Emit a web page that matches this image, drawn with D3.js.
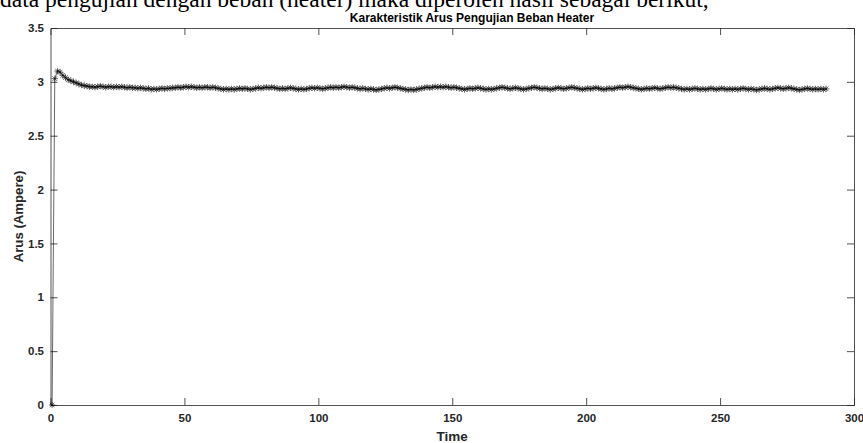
<!DOCTYPE html>
<html><head><meta charset="utf-8">
<script src="https://cdn.jsdelivr.net/npm/d3@7/dist/d3.min.js"></script>
<style>body{margin:0;background:#fff;}svg{display:block;}</style>
</head><body><svg id="c" width="863" height="443"></svg>
<script>
const titleText = "Karakteristik Arus Pengujian Beban Heater";
const xLabel = "Time";
const yLabel = "Arus (Ampere)";
const xTicks = [0, 50, 100, 150, 200, 250, 300];
const yTicks = [0, 0.5, 1, 1.5, 2, 2.5, 3, 3.5];
const arus = [
0, 3.03, 3.10, 3.09, 3.06, 3.04, 3.02, 3.01, 3.00, 2.99, 2.98, 2.97, 2.965, 2.96, 2.955, 2.955, 2.95, 2.955, 2.96, 2.955,
2.95, 2.955, 2.955, 2.95, 2.955, 2.95, 2.955, 2.95, 2.945, 2.95, 2.945, 2.945, 2.94, 2.945, 2.94, 2.935, 2.94, 2.93, 2.935, 2.93,
2.935, 2.94, 2.935, 2.94, 2.94, 2.945, 2.945, 2.95, 2.945, 2.95, 2.955, 2.95, 2.955, 2.95, 2.945, 2.95, 2.945, 2.95, 2.95, 2.945,
2.95, 2.945, 2.94, 2.935, 2.93, 2.935, 2.93, 2.935, 2.93, 2.935, 2.94, 2.935, 2.94, 2.935, 2.93, 2.935, 2.94, 2.945, 2.94, 2.945,
2.95, 2.945, 2.95, 2.945, 2.94, 2.935, 2.94, 2.935, 2.94, 2.945, 2.94, 2.935, 2.93, 2.935, 2.93, 2.935, 2.94, 2.945, 2.94, 2.945,
2.94, 2.935, 2.94, 2.945, 2.95, 2.945, 2.95, 2.945, 2.95, 2.955, 2.95, 2.945, 2.95, 2.945, 2.94, 2.935, 2.94, 2.935, 2.93, 2.935,
2.93, 2.925, 2.93, 2.935, 2.94, 2.945, 2.94, 2.945, 2.95, 2.945, 2.94, 2.935, 2.93, 2.925, 2.93, 2.925, 2.93, 2.935, 2.94, 2.945,
2.95, 2.945, 2.95, 2.955, 2.95, 2.955, 2.95, 2.955, 2.95, 2.945, 2.95, 2.945, 2.94, 2.935, 2.93, 2.935, 2.94, 2.935, 2.94, 2.945,
2.94, 2.935, 2.93, 2.935, 2.93, 2.935, 2.94, 2.945, 2.95, 2.945, 2.94, 2.935, 2.94, 2.945, 2.94, 2.935, 2.93, 2.935, 2.94, 2.945,
2.95, 2.945, 2.94, 2.935, 2.94, 2.935, 2.93, 2.935, 2.94, 2.945, 2.94, 2.935, 2.94, 2.945, 2.95, 2.945, 2.94, 2.935, 2.93, 2.935,
2.94, 2.935, 2.94, 2.945, 2.94, 2.935, 2.93, 2.935, 2.94, 2.935, 2.94, 2.945, 2.95, 2.945, 2.95, 2.955, 2.95, 2.945, 2.94, 2.935,
2.93, 2.935, 2.94, 2.935, 2.94, 2.945, 2.94, 2.935, 2.94, 2.945, 2.95, 2.945, 2.95, 2.945, 2.94, 2.935, 2.93, 2.935, 2.93, 2.935,
2.94, 2.935, 2.93, 2.935, 2.93, 2.935, 2.94, 2.935, 2.93, 2.935, 2.94, 2.935, 2.93, 2.935, 2.93, 2.935, 2.93, 2.935, 2.94, 2.935,
2.93, 2.935, 2.93, 2.925, 2.93, 2.935, 2.94, 2.935, 2.93, 2.935, 2.94, 2.945, 2.94, 2.935, 2.94, 2.945, 2.94, 2.935, 2.93, 2.925,
2.93, 2.935, 2.94, 2.935, 2.93, 2.935, 2.93, 2.935, 2.93, 2.935
];
const time = arus.map((v, i) => i + 0.6);
const data = arus.map((v, i) => ({t: time[i], a: v}));

const svg = d3.select("#c");
const L = 50.5, R = 854, T = 28, B = 405;
const x = d3.scaleLinear().domain([0, 300]).range([L, R]);
const y = d3.scaleLinear().domain([0, 3.5]).range([B, T]);
const axisCol = "#262626";
const font = "'Liberation Sans', Arial, sans-serif";

// cropped paragraph text above the figure (only its lower part is visible)
svg.append("text").attr("x", 0).attr("y", 7)
  .attr("font-family", "'Liberation Serif', 'Times New Roman', serif")
  .attr("font-size", 23.5).attr("fill", "#000")
  .text("data pengujian dengan beban (heater) maka diperoleh hasil sebagai berikut,");

// white plot background
svg.append("rect").attr("x", 0).attr("y", 12.5).attr("width", 863).attr("height", 431).attr("fill", "#fff");

// title
svg.append("text").attr("x", 472).attr("y", 22).attr("text-anchor", "middle")
  .attr("font-family", font).attr("font-weight", "bold").attr("font-size", 12).attr("fill", "#000")
  .text(titleText);

// axes (ticks inside)
const tl = 7;
const gx = svg.append("g").attr("transform", `translate(0,${B})`)
  .call(d3.axisBottom(x).tickValues(xTicks).tickSize(-tl).tickPadding(9).tickFormat(d3.format("d")));
const gxt = svg.append("g").attr("transform", `translate(0,${T})`)
  .call(d3.axisTop(x).tickValues(xTicks).tickSize(-tl).tickFormat(""));
const gy = svg.append("g").attr("transform", `translate(${L},0)`)
  .call(d3.axisLeft(y).tickValues(yTicks).tickSize(-tl).tickPadding(6.5).tickFormat(d => d3.format("")(d)));
const gyr = svg.append("g").attr("transform", `translate(${R},0)`)
  .call(d3.axisRight(y).tickValues(yTicks).tickSize(-tl).tickFormat(""));
[gx, gxt, gy, gyr].forEach(g => {
  g.select(".domain").attr("stroke", axisCol).attr("stroke-width", 0.8);
  g.selectAll(".tick line").attr("stroke", axisCol).attr("stroke-width", 0.8);
  g.selectAll(".tick text").attr("font-family", font).attr("font-weight", "bold")
    .attr("font-size", 11.5).attr("fill", axisCol);
});
gx.selectAll(".tick").filter(d => d === 0 || d === 300).select("line").remove();
gxt.selectAll(".tick").filter(d => d === 0 || d === 300).select("line").remove();
gy.selectAll(".tick").filter(d => d === 0 || d === 3.5).select("line").remove();
gyr.selectAll(".tick").filter(d => d === 0 || d === 3.5).select("line").remove();

// axis labels
svg.append("text").attr("x", (L + R) / 2).attr("y", 441).attr("text-anchor", "middle")
  .attr("font-family", font).attr("font-weight", "bold").attr("font-size", 13.5).attr("fill", axisCol)
  .text(xLabel);
svg.append("text").attr("transform", `translate(23,${(T + B) / 2}) rotate(-90)`).attr("text-anchor", "middle")
  .attr("font-family", font).attr("font-weight", "bold").attr("font-size", 13.2).attr("fill", axisCol)
  .text(yLabel);

// line
const line = d3.line().x(d => x(d.t)).y(d => y(d.a));
svg.append("path").datum(data).attr("d", line).attr("fill", "none")
  .attr("stroke", "#000").attr("stroke-width", 0.6);

// asterisk markers
const s = 3.2, sd = 2.3;
const mk = `M0,${-s}V${s}M${-s},0H${s}M${-sd},${-sd}L${sd},${sd}M${-sd},${sd}L${sd},${-sd}`;
svg.append("g").selectAll("path.m").data(data).join("path")
  .attr("transform", d => `translate(${x(d.t)},${y(d.a)})`)
  .attr("d", mk).attr("fill", "none").attr("stroke", "#000").attr("stroke-width", 0.6);
</script>
</body></html>
